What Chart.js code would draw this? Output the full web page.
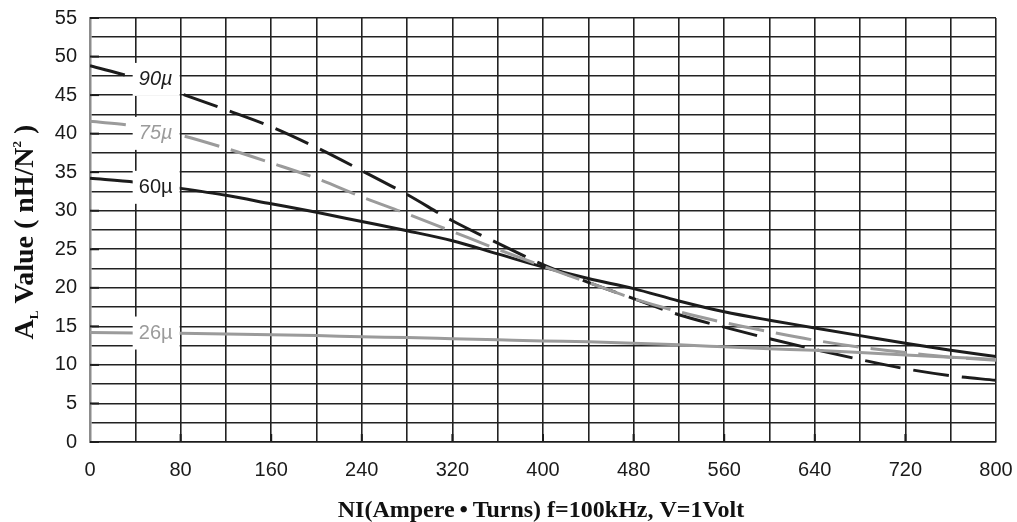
<!DOCTYPE html>
<html>
<head>
<meta charset="utf-8">
<script src="https://cdn.jsdelivr.net/npm/chart.js@4/dist/chart.umd.min.js"></script>
<style>
  html, body { margin: 0; padding: 0; background: #fff; }
  #plot { display: block; }
</style>
</head>
<body>
<canvas id="plot" width="1017" height="522"></canvas>
<script>
// NI (Ampere-Turns), cada 40
let niArr = [0, 40, 80, 120, 160, 200, 240, 280, 320, 360, 400, 440, 480, 520, 560, 600, 640, 680, 720, 760, 800];

// Valores A_L [nH/N^2] por material
let al90Arr = [48.8, 47.2, 45.2, 43.1, 40.9, 38.2, 35.2, 32.1, 28.7, 25.8, 23.0, 20.7, 18.6, 16.5, 14.9, 13.4, 12.0, 10.7, 9.5, 8.6, 8.0];
let al75Arr = [41.6, 41.0, 39.8, 38.1, 36.2, 34.2, 31.8, 29.6, 27.3, 25.0, 22.8, 20.7, 18.6, 16.9, 15.5, 14.3, 13.2, 12.3, 11.6, 11.0, 10.6];
let al60Arr = [34.2, 33.7, 32.9, 32.0, 30.9, 29.8, 28.6, 27.4, 26.1, 24.4, 22.7, 21.2, 19.9, 18.3, 16.9, 15.8, 14.8, 13.8, 12.8, 11.9, 11.1];
let al26Arr = [14.2, 14.15, 14.1, 14.0, 13.9, 13.8, 13.65, 13.55, 13.4, 13.25, 13.1, 13.0, 12.8, 12.6, 12.35, 12.1, 11.9, 11.6, 11.3, 11.0, 10.7];

// Etiquetas de cada curva
let etiquetasArr = ['90\u00b5', '75\u00b5', '60\u00b5', '26\u00b5'];

let negro = '#1c1c1c';
let gris = '#9b9b9b';
let sans = '"Liberation Sans", Arial, sans-serif';
let serif = '"Liberation Serif", "Times New Roman", serif';

let serie = (data, color, dash) => ({
  data: niArr.map((x, i) => ({ x: x, y: data[i] })),
  borderColor: color,
  borderWidth: 3,
  borderDash: dash,
  pointRadius: 0,
  cubicInterpolationMode: 'monotone',
  fill: false
});

// Etiquetas sobre caja blanca, ancladas en coordenadas de datos
let etiquetasPlugin = {
  id: 'etiquetas',
  afterDatasetsDraw: (chart) => {
    let { ctx, scales: { x, y }, chartArea } = chart;
    let estilos = [
      { color: negro, italic: true, yv: 47.1 },
      { color: gris, italic: true, yv: 40.1 },
      { color: negro, italic: false, yv: 33.1 },
      { color: gris, italic: false, yv: 14.2 }
    ];
    ctx.save();
    // marcas cortas en los ejes
    ctx.strokeStyle = negro;
    ctx.lineWidth = 2;
    for (let v = 0; v <= 55; v += 5) {
      let py = y.getPixelForValue(v);
      ctx.beginPath();
      ctx.moveTo(chartArea.left, py);
      ctx.lineTo(chartArea.left + 9, py);
      ctx.stroke();
    }
    for (let v = 80; v < 800; v += 80) {
      let px = x.getPixelForValue(v);
      ctx.beginPath();
      ctx.moveTo(px, chartArea.bottom);
      ctx.lineTo(px, chartArea.bottom - 8);
      ctx.stroke();
    }
    etiquetasArr.forEach((txt, i) => {
      let e = estilos[i];
      let cx = x.getPixelForValue(58);
      let cy = y.getPixelForValue(e.yv);
      ctx.fillStyle = '#fff';
      ctx.fillRect(cx - 23, cy - 16, 47, 33);
      ctx.font = (e.italic ? 'italic ' : '') + '20px ' + sans;
      ctx.fillStyle = e.color;
      ctx.textAlign = 'center';
      ctx.textBaseline = 'middle';
      ctx.fillText(txt, cx, cy + 1);
    });
    ctx.restore();
  },
  afterDraw: (chart) => {
    let { ctx } = chart;
    ctx.save();
    ctx.fillStyle = '#111';
    // titulo eje X
    ctx.font = 'bold 24px ' + serif;
    ctx.textAlign = 'center';
    ctx.textBaseline = 'alphabetic';
    ctx.fillText('NI(Ampere\u2009\u2022\u2009Turns) f=100kHz, V=1Volt', 541, 517);

    // titulo eje Y con subindice y superindice
    let partes = [
      { t: 'A', f: 28, dy: 0 },
      { t: 'L', f: 13, dy: 5 },
      { t: ' Value ( nH/N', f: 28, dy: 0 },
      { t: '2', f: 13, dy: -12 },
      { t: ' )', f: 28, dy: 0 }
    ];
    let ancho = 0;
    partes.forEach(p => {
      ctx.font = `bold ${p.f}px ${serif}`;
      p.w = ctx.measureText(p.t).width;
      ancho += p.w;
    });
    ctx.translate(33, 232);
    ctx.rotate(-Math.PI / 2);
    ctx.textAlign = 'left';
    let px = -ancho / 2;
    partes.forEach(p => {
      ctx.font = `bold ${p.f}px ${serif}`;
      ctx.fillText(p.t, px, p.dy);
      px += p.w;
    });
    ctx.restore();
  }
};

let plotRef = document.getElementById('plot');

let config = {
  type: 'line',
  data: {
    datasets: [
      serie(al26Arr, gris, []),
      serie(al75Arr, gris, [36, 12]),
      serie(al90Arr, negro, [36, 13]),
      serie(al60Arr, negro, [])
    ]
  },
  options: {
    responsive: false,
    animation: false,
    layout: { padding: { left: 0, right: 21, top: 18, bottom: 0 } },
    plugins: {
      legend: { display: false },
      tooltip: { enabled: false }
    },
    scales: {
      x: {
        type: 'linear',
        min: 0,
        max: 800,
        border: { display: true, color: negro, width: 1.6 },
        grid: { color: '#222', lineWidth: 1.6, drawTicks: false },
        ticks: {
          stepSize: 40,
          autoSkip: false,
          maxRotation: 0,
          padding: 16,
          color: '#1a1a1a',
          font: { family: sans, size: 20 },
          callback: (v) => (v % 80 === 0 ? v : '')
        },
        afterFit: (scale) => {
          scale.height = 80;
          scale.paddingLeft = 0;
          scale.paddingRight = 0;
        }
      },
      y: {
        min: 0,
        max: 55,
        border: { display: true, color: '#8c8c8c', width: 2.5 },
        grid: { color: '#222', lineWidth: 1.6, drawTicks: false },
        ticks: {
          stepSize: 2.5,
          autoSkip: false,
          padding: 13,
          color: '#1a1a1a',
          font: { family: sans, size: 20 },
          callback: (v) => (v % 5 === 0 ? v : '')
        },
        afterFit: (scale) => {
          scale.width = 90;
          scale.paddingTop = 0;
          scale.paddingBottom = 0;
        }
      }
    }
  },
  plugins: [etiquetasPlugin]
};

let chart1 = new Chart(plotRef, config);
</script>
</body>
</html>
